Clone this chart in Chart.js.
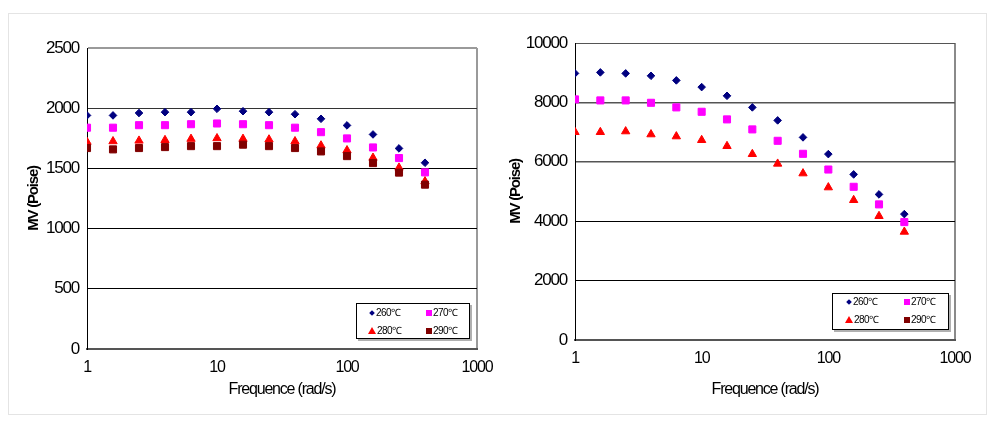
<!DOCTYPE html>
<html lang="en">
<head>
<meta charset="UTF-8">
<title>MV vs Frequence</title>
<script src="https://cdn.jsdelivr.net/npm/chart.js"></script>
<style>
  body { margin: 0; background: #fff; }
  .frame {
    position: absolute; left: 8px; top: 13px;
    width: 977px; height: 400px;
    border: 1px solid #e4e4e4;
  }
  canvas { position: absolute; top: 0; }
  #leftChart { left: 0; }
  #rightChart { left: 497px; }
  .legend {
    position: absolute;
    border: 1px solid #000;
    background: #fff;
    box-shadow: 2px 2px 0 #b0b0b0;
    font-family: "Liberation Sans", Arial, sans-serif;
    font-size: 10px;
    letter-spacing: -0.6px;
    color: #000;
  }
  .legend .item { position: absolute; white-space: nowrap; line-height: 12px; }
  .mk { display: inline-block; vertical-align: middle; margin-right: 1px; }
  .mk.diamond { width: 4px; height: 4px; background: #000080; transform: rotate(45deg); margin: 0 2px 1px 1px; }
  .mk.sq-m { width: 6px; height: 6px; background: #ff00ff; margin-bottom: 1px; }
  .mk.tri { width: 0; height: 0; border-left: 4px solid transparent; border-right: 4px solid transparent; border-bottom: 7px solid #ff0000; margin-bottom: 2px; }
  .mk.sq-d { width: 6px; height: 6px; background: #800000; margin-bottom: 1px; }
</style>
</head>
<body>
<div class="frame"></div>
<canvas id="leftChart" width="497" height="426"></canvas>
<canvas id="rightChart" width="497" height="426"></canvas>

<div class="legend" style="left:356px; top:303px; width:112px; height:34px;">
  <div class="item" style="left:12px; top:3px;"><span class="mk diamond"></span>260℃</div>
  <div class="item" style="left:69px; top:3px;"><span class="mk sq-m"></span>270℃</div>
  <div class="item" style="left:11px; top:21px;"><span class="mk tri"></span>280℃</div>
  <div class="item" style="left:69px; top:21px;"><span class="mk sq-d"></span>290℃</div>
</div>
<div class="legend" style="left:832px; top:293px; width:115px; height:35px;">
  <div class="item" style="left:13px; top:2px;"><span class="mk diamond"></span>260℃</div>
  <div class="item" style="left:71px; top:2px;"><span class="mk sq-m"></span>270℃</div>
  <div class="item" style="left:12px; top:20px;"><span class="mk tri"></span>280℃</div>
  <div class="item" style="left:71px; top:20px;"><span class="mk sq-d"></span>290℃</div>
</div>

<script>
// frequencies (rad/s), shared by both charts
const freq = [1, 1.585, 2.512, 3.981, 6.31, 10, 15.85, 25.12, 39.81, 63.1, 100, 158.5, 251.2, 398.1];
const xTicks = [1, 10, 100, 1000];
const seriesNames = ['260℃', '270℃', '280℃', '290℃'];

// left chart
const leftYTicks = [0, 500, 1000, 1500, 2000, 2500];
const left260 = [1940, 1940, 1960, 1967, 1967, 1995, 1975, 1967, 1950, 1912, 1857, 1782, 1666, 1547];
const left270 = [1838, 1838, 1859, 1859, 1867, 1873, 1867, 1859, 1838, 1801, 1749, 1674, 1586, 1467];
const left280 = [1720, 1725, 1730, 1735, 1745, 1750, 1745, 1740, 1725, 1690, 1650, 1588, 1506, 1392];
const left290 = [1669, 1658, 1669, 1677, 1685, 1685, 1697, 1685, 1669, 1641, 1602, 1544, 1465, 1365];

// right chart (no 290℃ points shown)
const rightYTicks = [0, 2000, 4000, 6000, 8000, 10000];
const right260 = [8977, 9010, 8977, 8896, 8741, 8515, 8222, 7832, 7394, 6822, 6259, 5576, 4902, 4239];
const right270 = [8101, 8067, 8067, 7987, 7832, 7684, 7428, 7091, 6707, 6269, 5740, 5158, 4566, 3970];
const right280 = [7000, 7000, 7024, 6923, 6855, 6731, 6529, 6259, 5935, 5609, 5138, 4710, 4172, 3643];
const right290 = [];

const markStyles = [
    { pointStyle: 'rectRot', radius: 3.8, color: '#000080', order: 4 },
    { pointStyle: 'rect', radius: 5, color: '#ff00ff', order: 3 },
    { pointStyle: 'triangle', radius: 4.8, color: '#ff0000', order: 2 },
    { pointStyle: 'rect', radius: 5, color: '#800000', order: 1 }
];

const textFamily = '"Liberation Sans", Arial, sans-serif';

// the original uses a narrow face; tighten the canvas text a bit
const narrowText = {
    id: 'narrowText',
    beforeDraw(chart) { chart.ctx.letterSpacing = '-1.2px'; }
};

function makeChart(id, yTicks, series, geo) {
    const yMax = yTicks[yTicks.length - 1];
    const datasets = series.map((vals, i) => ({
        label: seriesNames[i],
        data: vals.map((v, j) => ({ x: freq[j], y: v })),
        pointStyle: markStyles[i].pointStyle,
        pointRadius: markStyles[i].radius,
        pointHoverRadius: markStyles[i].radius,
        backgroundColor: markStyles[i].color,
        borderColor: markStyles[i].color,
        pointBorderWidth: 1,
        showLine: false,
        order: markStyles[i].order
    }));

    return new Chart(document.getElementById(id), {
        type: 'scatter',
        data: { datasets: datasets },
        plugins: [narrowText],
        options: {
            responsive: false,
            animation: false,
            layout: { padding: { top: geo.top, right: geo.right, bottom: 0, left: 0 } },
            plugins: { legend: { display: false }, tooltip: { enabled: false } },
            scales: {
                x: {
                    type: 'logarithmic',
                    min: 1,
                    max: 1000,
                    afterBuildTicks: s => { s.ticks = xTicks.map(v => ({ value: v })); },
                    afterFit: s => { s.height = geo.xHeight; s.paddingLeft = 0; s.paddingRight = 0; },
                    ticks: {
                        font: { family: textFamily, size: 16 },
                        color: '#000',
                        padding: 9,
                        maxRotation: 0,
                        autoSkip: false,
                        callback: v => String(v)
                    },
                    grid: {
                        drawTicks: false,
                        color: c => (c.tick && c.tick.value === 1000) ? geo.edgeColor : 'rgba(0,0,0,0)',
                        lineWidth: c => (c.tick && c.tick.value === 1000) ? 2 : 1
                    },
                    border: { color: '#555', width: 2 },
                    title: {
                        display: true,
                        text: 'Frequence (rad/s)',
                        color: '#000',
                        font: { family: textFamily, size: 16 },
                        padding: { top: 0, bottom: 27 }
                    }
                },
                y: {
                    min: 0,
                    max: yMax,
                    afterBuildTicks: s => { s.ticks = yTicks.map(v => ({ value: v })); },
                    afterFit: s => { s.width = geo.yWidth; s.paddingTop = 0; s.paddingBottom = 0; },
                    ticks: {
                        font: { family: textFamily, size: 17 },
                        color: '#000',
                        padding: 8,
                        callback: v => String(v)
                    },
                    grid: {
                        drawTicks: false,
                        color: c => geo.gridColors[yTicks.indexOf(c.tick.value)],
                        lineWidth: c => geo.gridWidths[yTicks.indexOf(c.tick.value)]
                    },
                    border: { color: '#000', width: 1 },
                    title: {
                        display: true,
                        text: 'MV (Poise)',
                        color: '#000',
                        font: { family: textFamily, size: 15, weight: 'bold' },
                        padding: { top: geo.titlePad, bottom: 0 }
                    }
                }
            }
        }
    });
}

makeChart('leftChart', leftYTicks, [left260, left270, left280, left290], {
    top: 48, right: 20, yWidth: 87, xHeight: 77, titlePad: 25, edgeColor: '#9a9a9a',
    gridColors: ['rgba(0,0,0,0)', '#000', '#000', '#000', '#333', '#9a9a9a'],
    gridWidths: [1, 1, 1, 1, 1, 2]
});

makeChart('rightChart', rightYTicks, [right260, right270, right280, right290], {
    top: 43, right: 39, yWidth: 78, xHeight: 86, titlePad: 10, edgeColor: '#8a8a8a',
    gridColors: ['rgba(0,0,0,0)', '#000', '#000', '#555', '#555', '#555'],
    gridWidths: [1, 1, 1, 1.5, 1.5, 1]
});
</script>
</body>
</html>
